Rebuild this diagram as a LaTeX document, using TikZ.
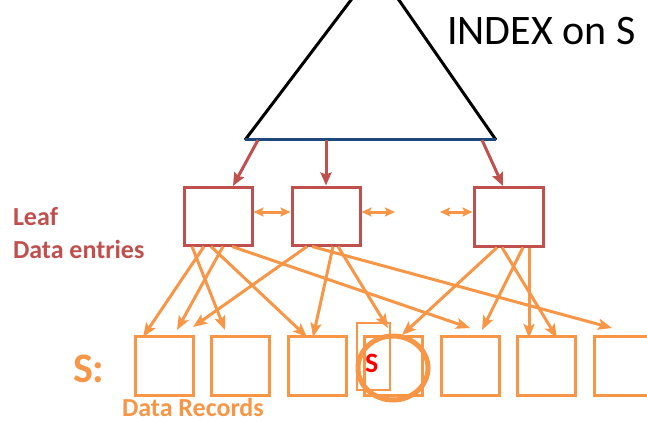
\documentclass[tikz,border=0pt]{standalone}
\usepackage{fontspec}
\setmainfont{Carlito}
\usetikzlibrary{arrows.meta,calc}
\definecolor{leafred}{HTML}{C0504D}
\definecolor{recorange}{HTML}{F79646}
\definecolor{baseblue}{HTML}{1F497D}
\definecolor{keyred}{HTML}{FF0000}

\begin{document}
\begin{tikzpicture}[x=1pt,y=-1pt,
  leafbox/.style={draw=leafred,line width=3pt,minimum width=68pt,minimum height=58pt,inner sep=0pt},
  recbox/.style={draw=recorange,line width=3pt,minimum width=58pt,minimum height=59pt,inner sep=0pt},
  ptr/.style={draw=recorange,line width=3pt,-{Stealth[length=14pt,width=11pt,inset=3pt]}},
  sibling/.style={draw=recorange,line width=3pt,{Stealth[length=10pt,width=9pt,inset=2pt]}-{Stealth[length=10pt,width=9pt,inset=2pt]}},
  down/.style={draw=leafred,line width=3pt,-{Stealth[length=13pt,width=11pt,inset=2pt]}},
  lbl/.style={anchor=base west,inner sep=0pt,outer sep=0pt}
]
\useasboundingbox (0,0) rectangle (647,422);
\clip (0,0) rectangle (647,422);

% index triangle
\coordinate (apex) at (376,-33);
\coordinate (bl) at (245,140);
\coordinate (br) at (496,140);
\draw[line width=3pt,line join=round] (bl) -- (apex) -- (br);
\draw[baseblue,line width=3pt] (bl) -- (br);
\node[lbl,font=\fontsize{42}{42}\selectfont] (title) at (447,45) {INDEX on S};

% leaf pages
\node[leafbox] (L1) at (218,216) {};
\node[leafbox] (L2) at (326,216) {};
\node[leafbox,minimum width=69pt,minimum height=59pt] (L3) at (508.5,216.5) {};

% pointers from the index base to the leaves
\coordinate (t1) at (258,140);
\coordinate (t2) at (326,140);
\coordinate (t3) at (482,140);
\draw[down] (t1) -- (233,186);
\draw[down] (t2) -- (L2.north);
\draw[down] (t3) -- (503,186);

% sibling links
\coordinate (s2r) at (395,212);
\coordinate (s3l) at (440,212);
\draw[sibling] (L1.east |- 0,212) -- (L2.west |- 0,212);
\draw[sibling] (L2.east |- 0,212) -- (s2r);
\draw[sibling] (s3l) -- (L3.west |- 0,212);

\node[lbl,text=leafred,font=\fontsize{26}{26}\selectfont\bfseries] (leaf) at (13,225) {Leaf};
\node[lbl,text=leafred,font=\fontsize{26}{26}\selectfont\bfseries] (entries) at (13,258) {Data entries};

% data records
\node[draw=recorange,line width=2.5pt,minimum width=33pt,minimum height=67pt,inner sep=0pt] (K) at (373.5,356.5) {};
\foreach \i/\x in {1/164,2/240,3/317,4/393,5/470,6/546,7/623}
  \node[recbox] (R\i) at (\x,365.5) {};
\node[lbl,text=recorange,font=\fontsize{42}{42}\selectfont\bfseries] (S) at (73,382) {S:};
\node[lbl,text=recorange,font=\fontsize{26}{26}\selectfont\bfseries] (recs) at (122,416) {Data Records};
\node[lbl,text=keyred,font=\fontsize{28}{28}\selectfont\bfseries] (key) at (365,372) {S};
\draw[recorange,line width=5pt] (R4.center) ++(0,2.5) ellipse [x radius=35,y radius=32];

% tips of the record pointers
\coordinate (e1) at (143,337);
\coordinate (e2) at (177,330);
\coordinate (e3) at (193,327);
\coordinate (e4) at (225,330);
\coordinate (e5) at (307,337);
\coordinate (e6) at (313,337);
\coordinate (e7) at (388,328);
\coordinate (e8) at (402,335);
\coordinate (e9) at (470,328);
\coordinate (e10) at (482,330);
\coordinate (e11) at (529,338);
\coordinate (e12) at (557,338);
\coordinate (e13) at (612,328);

% record pointers
\draw[ptr] ([xshift=-26]L1.south) -- (e4);
\draw[ptr] ([xshift=-14]L1.south) -- (e1);
\draw[ptr] ([xshift=-7]L1.south) -- (e5);
\draw[ptr] ([xshift=5]L1.south) -- (e2);
\draw[ptr] ([xshift=14]L1.south) -- (e9);
\draw[ptr] ([xshift=-19]L2.south) -- (e3);
\draw[ptr] ([xshift=-14]L2.south) -- (e13);
\draw[ptr] ([xshift=7]L2.south) -- (e6);
\draw[ptr] ([xshift=12]L2.south) -- (e7);
\draw[ptr] ([xshift=-11.5]L3.south) -- (e8);
\draw[ptr] ([xshift=-6.5]L3.south) -- (e12);
\draw[ptr] ([xshift=14.5]L3.south) -- (e10);
\draw[ptr] ([xshift=20.5]L3.south) -- (e11);
\end{tikzpicture}
\end{document}
